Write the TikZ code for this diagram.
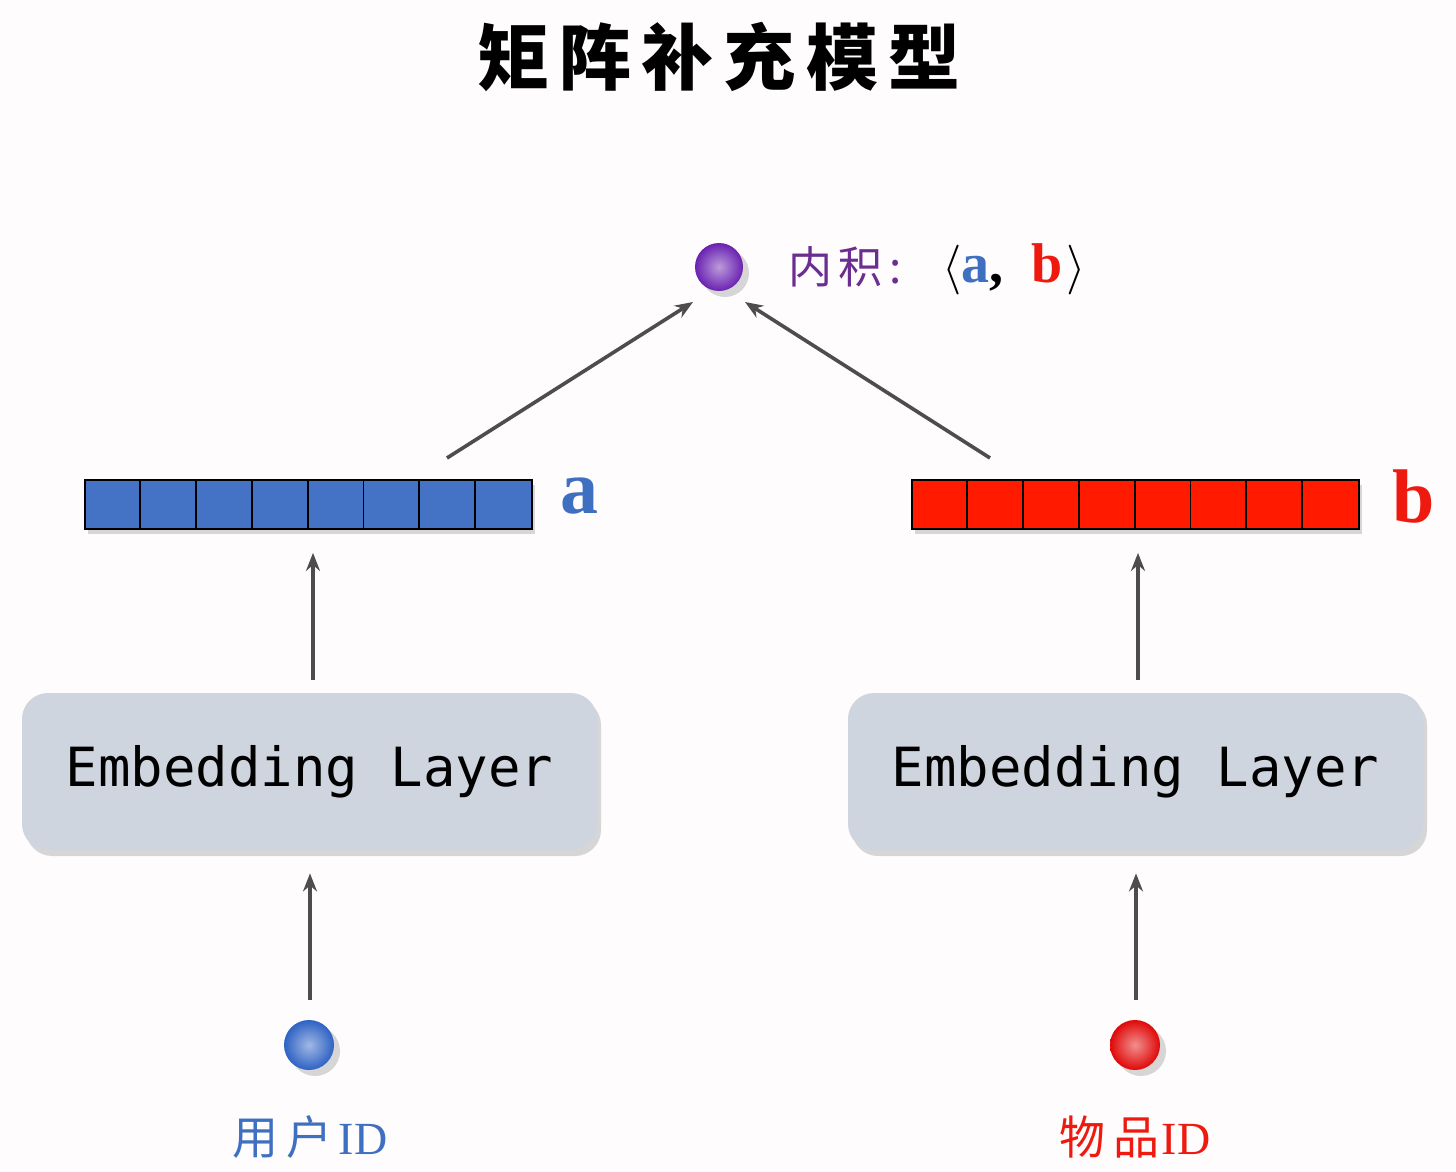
\documentclass[tikz,border=0pt]{standalone}
\usepackage{fontspec}
\newfontfamily\cjk{Noto Sans CJK SC}
\newfontfamily\monofnt{DejaVu Sans Mono}
\newfontfamily\serifb{Liberation Serif}
\usetikzlibrary{shadows,arrows.meta,calc}
\definecolor{vblue}{HTML}{4472C4}
\definecolor{vred}{HTML}{FF1A00}
\definecolor{lblue}{HTML}{3E6FC0}
\definecolor{lred}{HTML}{EE1A10}
\definecolor{lpurple}{HTML}{6B2D8F}
\definecolor{boxfill}{HTML}{CFD5DE}
\definecolor{arrgray}{HTML}{4D4D4D}
\definecolor{bgc}{HTML}{FEFCFD}
\definecolor{bblue}{HTML}{2E62C4}
\definecolor{bred}{HTML}{E00808}
\definecolor{bpurple}{HTML}{6A22B0}
\begin{document}
\begin{tikzpicture}[x=0.5pt,y=-0.5pt,
  arr/.style={draw=arrgray, line width=1.8pt, -{Stealth[length=9pt,width=7pt]}},
  emb/.style={rounded corners=13pt, fill=boxfill, minimum width=287.5pt, minimum height=78.5pt,
    drop shadow={opacity=0.3, shadow xshift=2pt, shadow yshift=-3pt},
    font=\monofnt\fontsize{27}{30}\selectfont},
  vec/.style={draw=black, line width=0.9pt, minimum width=223.5pt, minimum height=24.5pt, inner sep=0pt,
    drop shadow={opacity=0.3, shadow xshift=1.5pt, shadow yshift=-2.5pt}},
  ballst/.style={circle, minimum size=25pt, inner sep=0pt,
    drop shadow={opacity=0.3, shadow xshift=3pt, shadow yshift=-3pt}},
  cell/.style={draw=black, line width=0.9pt}
]
\useasboundingbox[fill=bgc] (0,0) rectangle (1456,1172);

% title
\node (title) at (719,57) {\cjk\bfseries\addfontfeature{LetterSpace=14}\fontsize{36}{40}\selectfont 矩阵补充模型};

% inner product dot and label
\node[ballst, inner color=bpurple!45!white, outer color=bpurple, minimum size=24pt] (dot) at (719,267) {};
\node[anchor=west, text=lpurple, inner sep=0pt] (iplabel) at (788,267) {\cjk\addfontfeature{LetterSpace=15}\fontsize{22}{26}\selectfont 内积:};
\node[anchor=west, inner sep=0pt] (ipformula) at (942,269) {\fontsize{28}{32}\selectfont$\langle$\serifb\bfseries\textcolor{lblue}{a},\hspace{14pt}\textcolor{lred}{b}\hspace{2pt}$\rangle$};

% vectors
\node[vec, fill=vblue] (veca) at (308.5,504.5) {};
\node[vec, fill=vred] (vecb) at (1135.5,504.5) {};
\foreach \v in {veca,vecb}{
  \foreach \i in {1,...,7}{
    \draw[cell] (\v.north west) ++(\i*55.875,0) -- ++(0,49);
  }
}
\node[anchor=west, text=lblue, inner sep=0pt] (laba) at (560,496) {\serifb\bfseries\fontsize{38}{40}\selectfont a};
\node[anchor=west, text=lred, inner sep=0pt] (labb) at (1392,496) {\serifb\bfseries\fontsize{38}{40}\selectfont b};

% embedding layers
\node[emb] (embL) at (309.5,771.5) {Embedding Layer};
\node[emb] (embR) at (1135.5,771.5) {Embedding Layer};

% id balls
\node[ballst, inner color=bblue!45!white, outer color=bblue] (ubal) at (309,1045) {};
\node[ballst, inner color=bred!45!white, outer color=bred] (ibal) at (1135,1045) {};
\node[text=lblue] (ulab) at (310,1137) {\fontsize{23}{26}\selectfont{\cjk\addfontfeature{LetterSpace=18}用户}\hspace{3pt}{\serifb ID}};
\node[text=lred] (ilab) at (1135,1137) {\fontsize{23}{26}\selectfont{\cjk\addfontfeature{LetterSpace=18}物品}\hspace{1pt}{\serifb ID}};

% connector coordinates
\coordinate (aout) at (447,458);
\coordinate (bout) at (990,458);
\coordinate (dotl) at (693,302);
\coordinate (dotr) at (745,302);

% connectors
\draw[arr] (aout) -- (dotl);
\draw[arr] (bout) -- (dotr);
\draw[arr, shorten <=6.5pt, shorten >=11.5pt] (embL.north -| 313,0) -- (veca.south -| 313,0);
\draw[arr, shorten <=6.5pt, shorten >=11.5pt] (embR.north -| 1138,0) -- (vecb.south -| 1138,0);
\draw[arr, shorten <=10pt, shorten >=11.5pt] (ubal.north -| 310,0) -- (embL.south -| 310,0);
\draw[arr, shorten <=10pt, shorten >=11.5pt] (ibal.north -| 1136,0) -- (embR.south -| 1136,0);
\end{tikzpicture}
\end{document}
